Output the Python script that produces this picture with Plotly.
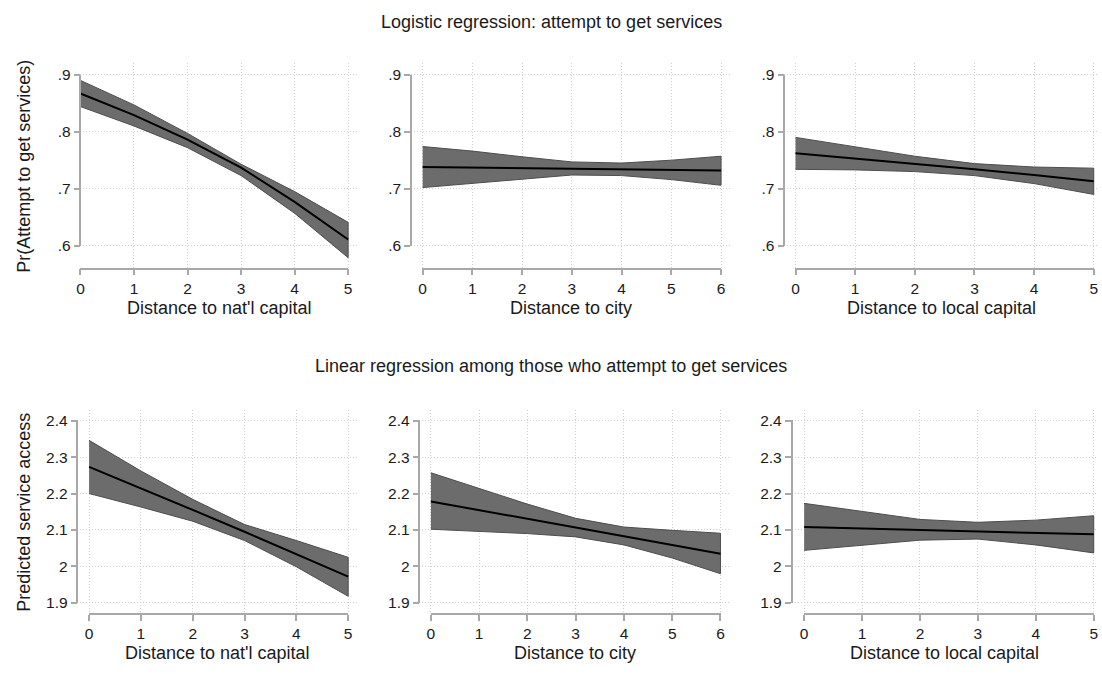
import plotly.graph_objects as go

# ---- predicted values with 95% confidence bands ----
x_natl = [0, 1, 2, 3, 4, 5]
x_city = [0, 1, 2, 3, 4, 5, 6]
x_local = [0, 1, 2, 3, 4, 5]

# Logistic regression: Pr(attempt to get services)
logit_natl_fit = [0.867, 0.829, 0.786, 0.737, 0.677, 0.611]
logit_natl_hi = [0.890, 0.847, 0.797, 0.743, 0.695, 0.641]
logit_natl_lo = [0.844, 0.810, 0.772, 0.723, 0.657, 0.579]

logit_city_fit = [0.738, 0.737, 0.736, 0.735, 0.734, 0.733, 0.732]
logit_city_hi = [0.774, 0.766, 0.756, 0.747, 0.745, 0.750, 0.757]
logit_city_lo = [0.702, 0.709, 0.717, 0.724, 0.723, 0.716, 0.706]

logit_local_fit = [0.762, 0.753, 0.744, 0.734, 0.724, 0.713]
logit_local_hi = [0.790, 0.774, 0.757, 0.744, 0.738, 0.736]
logit_local_lo = [0.734, 0.733, 0.730, 0.723, 0.709, 0.690]

# Linear regression: predicted service access
lin_natl_fit = [2.273, 2.215, 2.155, 2.095, 2.034, 1.972]
lin_natl_hi = [2.346, 2.262, 2.184, 2.115, 2.071, 2.025]
lin_natl_lo = [2.200, 2.163, 2.124, 2.071, 1.999, 1.918]

lin_city_fit = [2.178, 2.155, 2.131, 2.107, 2.083, 2.059, 2.035]
lin_city_hi = [2.257, 2.215, 2.171, 2.132, 2.108, 2.099, 2.091]
lin_city_lo = [2.102, 2.096, 2.090, 2.081, 2.059, 2.023, 1.980]

lin_local_fit = [2.108, 2.104, 2.100, 2.096, 2.092, 2.088]
lin_local_hi = [2.173, 2.150, 2.129, 2.121, 2.127, 2.139]
lin_local_lo = [2.044, 2.059, 2.072, 2.075, 2.059, 2.037]

top_yticks = [0.6, 0.7, 0.8, 0.9]
top_yticktext = [".6", ".7", ".8", ".9"]
bot_yticks = [1.9, 2.0, 2.1, 2.2, 2.3, 2.4]
bot_yticktext = ["1.9", "2", "2.1", "2.2", "2.3", "2.4"]

x_titles = ["Distance to nat'l capital", "Distance to city", "Distance to local capital"]
row_titles = ["Logistic regression: attempt to get services",
              "Linear regression among those who attempt to get services"]
y_titles = ["Pr(Attempt to get services)", "Predicted service access"]

W, H = 1102, 674
FONT = "Liberation Sans, Arial, Helvetica, sans-serif"
AXIS_GRAY = "#a8a8a8"
GRID_GRAY = "#cfcfcf"
BAND_FILL = "#6c6c6c"
BAND_EDGE = "#4e4e4e"
TICK_SIZE = 15.5
TITLE_SIZE = 18


def fx(p):
    return p / W


def fy(p):
    return 1 - p / H


# panel geometry in pixels: plot region box, x origin and x scale
rows = [
    dict(T=56.5, B=267.0, yref=0.9, yref_px=68.3, ppv=584.0,
         yticks=top_yticks, yticktext=top_yticktext,
         panels=[dict(L=77.0, R=357.0, x0=77.0, ppu=53.93),
                 dict(L=410.0, R=731.7, x0=421.7, ppu=50.1),
                 dict(L=786.0, R=1102.0, x0=797.3, ppu=60.08)]),
    dict(T=411.7, B=620.7, yref=2.4, yref_px=422.7, ppv=373.2,
         yticks=bot_yticks, yticktext=bot_yticktext,
         panels=[dict(L=74.0, R=357.0, x0=85.7, ppu=52.2),
                 dict(L=418.5, R=731.7, x0=430.0, ppu=48.62),
                 dict(L=793.3, R=1102.0, x0=806.0, ppu=58.34)]),
]

series = [
    [(x_natl, logit_natl_fit, logit_natl_hi, logit_natl_lo),
     (x_city, logit_city_fit, logit_city_hi, logit_city_lo),
     (x_local, logit_local_fit, logit_local_hi, logit_local_lo)],
    [(x_natl, lin_natl_fit, lin_natl_hi, lin_natl_lo),
     (x_city, lin_city_fit, lin_city_hi, lin_city_lo),
     (x_local, lin_local_fit, lin_local_hi, lin_local_lo)],
]

fig = go.Figure()
layout = {}
annotations = []
n = 0
for r, row in enumerate(rows):
    T, B = row["T"], row["B"]
    ppv, yref, yref_px = row["ppv"], row["yref"], row["yref_px"]
    ytop = yref + (yref_px - T) / ppv
    ybot = yref - (B - yref_px) / ppv

    def ypx(v):
        return yref_px + (yref - v) * ppv

    for c, pan in enumerate(row["panels"]):
        xs, fit, hi, lo = series[r][c]
        xmax = xs[-1]
        L, R, x0, ppu = pan["L"], pan["R"], pan["x0"], pan["ppu"]
        xlo = (L - x0) / ppu
        xhi = (R - x0) / ppu

        da, ta = 2 * n + 1, 2 * n + 2
        dx, dy = f"x{da}", f"y{da}"
        tx, ty = f"x{ta}", f"y{ta}"

        # confidence band as a closed polygon, then the fitted line
        fig.add_trace(go.Scatter(
            x=xs + xs[::-1], y=hi + lo[::-1], fill="toself",
            fillcolor=BAND_FILL, mode="lines",
            line=dict(color=BAND_EDGE, width=1),
            xaxis=dx, yaxis=dy, showlegend=False, hoverinfo="skip"))
        fig.add_trace(go.Scatter(
            x=xs, y=fit, mode="lines", line=dict(color="black", width=2),
            xaxis=dx, yaxis=dy, showlegend=False))
        # carrier trace for the scale axes
        fig.add_trace(go.Scatter(
            x=[None], y=[None], xaxis=tx, yaxis=ty,
            showlegend=False, hoverinfo="skip"))

        # data axes: carry the dotted grid only
        layout[f"xaxis{da}"] = dict(
            domain=[fx(L), fx(R)], range=[xlo, xhi], anchor=dy,
            tickmode="array", tickvals=xs, showticklabels=False, ticks="",
            showgrid=True, griddash="1px,2px", gridcolor=GRID_GRAY, gridwidth=1,
            zeroline=False, showline=False, fixedrange=True)
        layout[f"yaxis{da}"] = dict(
            domain=[fy(B), fy(T)], range=[ybot, ytop], anchor=dx,
            tickmode="array", tickvals=row["yticks"], showticklabels=False,
            ticks="", showgrid=True, griddash="1px,2px", gridcolor=GRID_GRAY,
            gridwidth=1, zeroline=False, showline=False, fixedrange=True)

        # scale axes: lines span only the labelled range
        e = 1e-3
        xr = [-e * xmax, xmax * (1 + e)]
        layout[f"xaxis{ta}"] = dict(
            domain=[fx(x0 + xr[0] * ppu), fx(x0 + xr[1] * ppu)], range=xr,
            anchor="free", position=fy(B), side="bottom",
            tickmode="array", tickvals=xs, ticktext=[str(v) for v in xs],
            ticks="outside", ticklen=6, tickwidth=1.5, tickcolor=AXIS_GRAY,
            showline=True, linecolor=AXIS_GRAY, linewidth=1.5,
            showgrid=False, zeroline=False, fixedrange=True,
            tickfont=dict(family=FONT, size=TICK_SIZE, color="#1a1a1a"))
        y0v, y1v = row["yticks"][0], row["yticks"][-1]
        span = y1v - y0v
        yr = [y0v - e * span, y1v + e * span]
        layout[f"yaxis{ta}"] = dict(
            domain=[fy(ypx(yr[0])), fy(ypx(yr[1]))], range=yr,
            anchor="free", position=fx(L), side="left",
            tickmode="array", tickvals=row["yticks"], ticktext=row["yticktext"],
            ticks="outside", ticklen=6, tickwidth=1.5, tickcolor=AXIS_GRAY,
            showline=True, linecolor=AXIS_GRAY, linewidth=1.5,
            showgrid=False, zeroline=False, fixedrange=True,
            tickfont=dict(family=FONT, size=TICK_SIZE, color="#1a1a1a"))

        # x-axis title under each panel
        annotations.append(dict(
            text=x_titles[c], xref="paper", yref="paper",
            x=fx((L + R) / 2), y=fy(B + 40), xanchor="center", yanchor="middle",
            showarrow=False, font=dict(family=FONT, size=TITLE_SIZE, color="#1a1a1a")))
        n += 1

    # y-axis title for the row
    annotations.append(dict(
        text=y_titles[r], xref="paper", yref="paper",
        x=fx(20), y=fy((T + B) / 2), xanchor="center", yanchor="middle",
        textangle=-90, showarrow=False,
        font=dict(family=FONT, size=TITLE_SIZE, color="#1a1a1a")))

# row headings
annotations.append(dict(
    text=row_titles[0], xref="paper", yref="paper", x=0.5, y=fy(14),
    xanchor="center", yanchor="middle", showarrow=False,
    font=dict(family=FONT, size=TITLE_SIZE, color="#1a1a1a")))
annotations.append(dict(
    text=row_titles[1], xref="paper", yref="paper", x=0.5, y=fy(367),
    xanchor="center", yanchor="middle", showarrow=False,
    font=dict(family=FONT, size=TITLE_SIZE, color="#1a1a1a")))

fig.update_layout(
    width=W, height=H, margin=dict(l=0, r=0, t=0, b=0),
    paper_bgcolor="white", plot_bgcolor="rgba(0,0,0,0)",
    font=dict(family=FONT, color="#1a1a1a"),
    annotations=annotations, showlegend=False, **layout)

fig.write_html("out.html")
